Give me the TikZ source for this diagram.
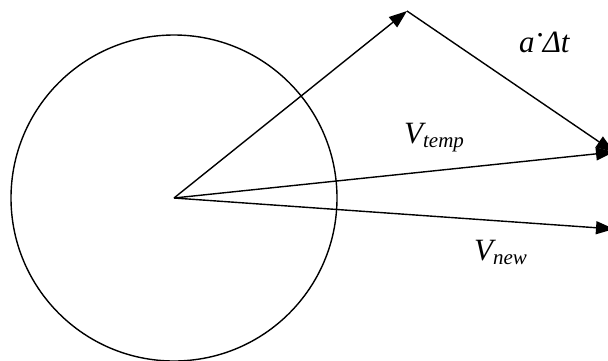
\documentclass[tikz,border=0pt]{standalone}
\usepackage{fontspec}
\setmainfont{Liberation Serif}
\usetikzlibrary{arrows.meta}
\newcommand\vlab[2]{#1\raisebox{-4.5pt}{\fontsize{21}{21}\selectfont #2}}
\tikzset{
  vec/.style={line width=1.4pt,-{Triangle[length=18pt,width=13pt]}},
  seg/.style={line width=1.4pt},
  lab/.style={anchor=base west,inner sep=0pt,font=\fontsize{31}{31}\selectfont\itshape}
}
\begin{document}
\begin{tikzpicture}[x=1pt,y=-1pt]
\useasboundingbox (0,0) rectangle (608,360);
\clip (0,0) rectangle (608,360);
\fill[white] (0,0) rectangle (608,360);
\coordinate (O) at (174,198);
\coordinate (A) at (407,11);
\coordinate (T) at (614,152);
\coordinate (N) at (614,229);
\draw[seg] (O) circle[radius=163];
\draw[vec] (O) -- (A);
\draw[vec] (A) -- (T);
\draw[vec] (O) -- (T);
\draw[vec] (O) -- (N);
\node[lab] (adt) at (519,52) {a\hspace{0.04em}\raisebox{0.22em}{·}\hspace{-0.03em}Δt};
\node[lab] (vt) at (404,143) {\vlab{V}{temp}};
\node[lab] (vn) at (474,260) {\vlab{V}{new}};
\end{tikzpicture}
\end{document}
